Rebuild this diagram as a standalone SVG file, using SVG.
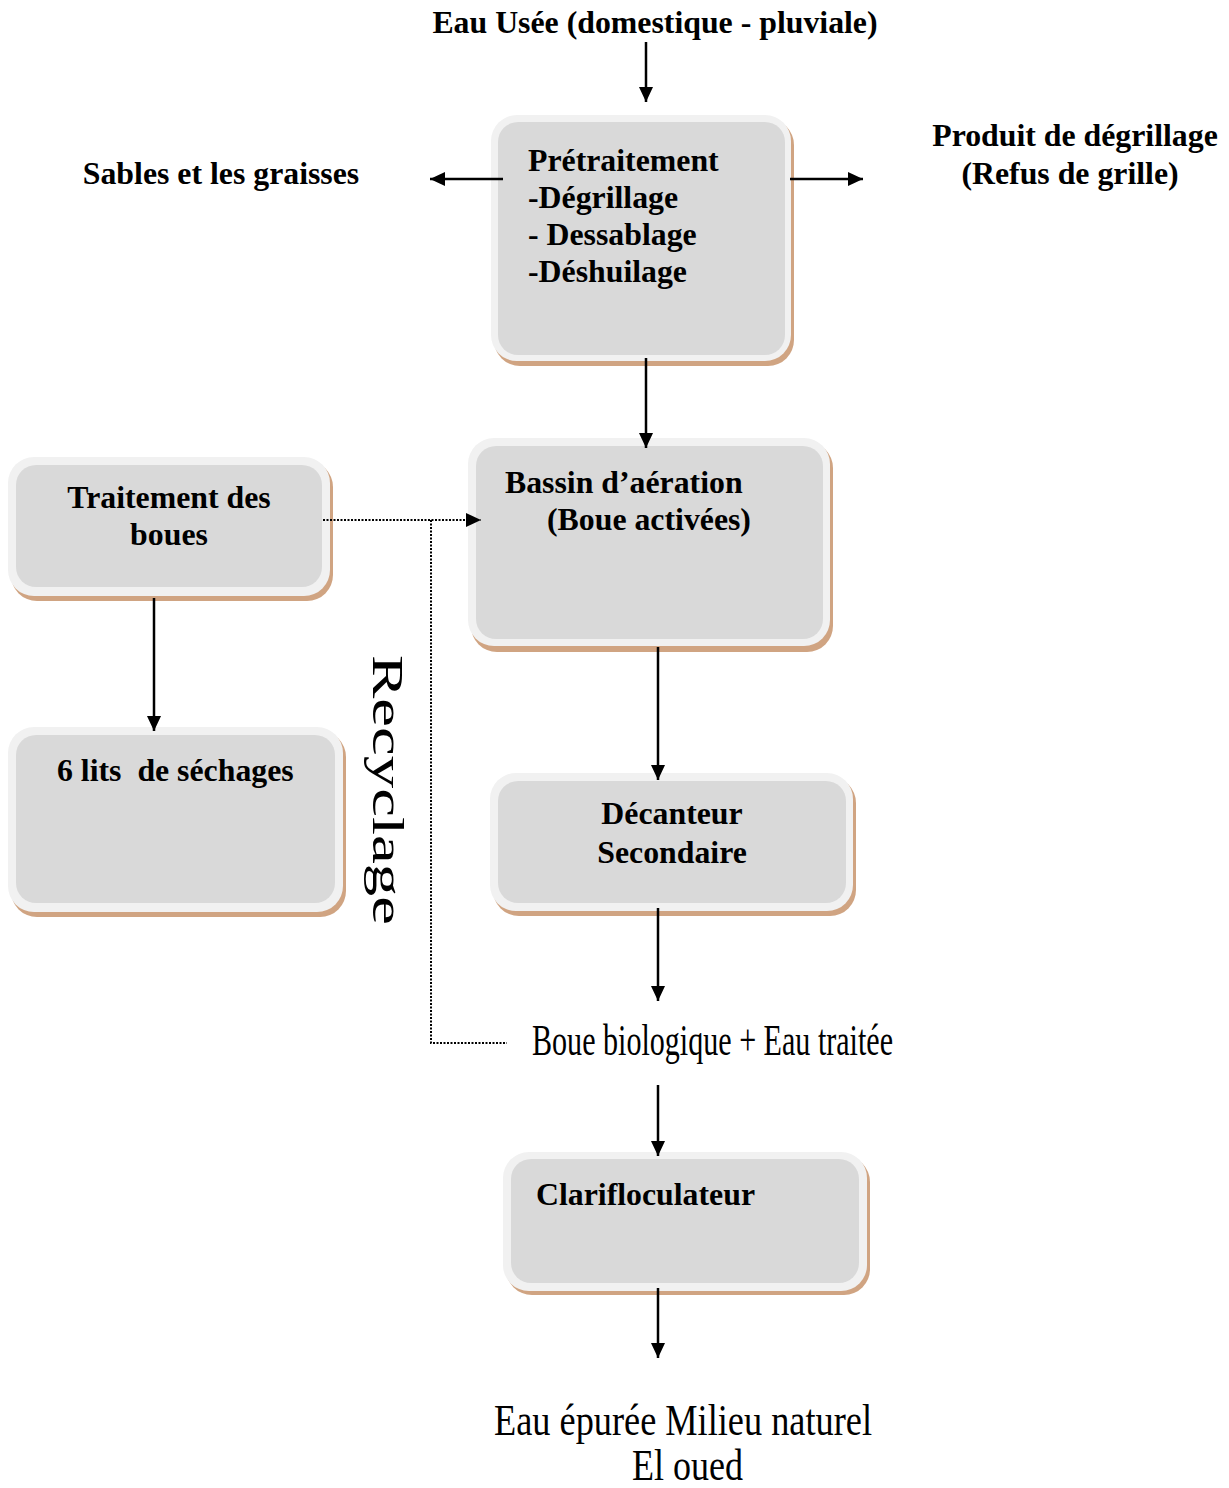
<svg xmlns="http://www.w3.org/2000/svg" width="1229" height="1488" viewBox="0 0 1229 1488">
<defs>
<style>
.sh{fill:#d0a482}
.out{fill:#f1f1f1}
.in{fill:#d9d9d9}
.b{font-family:"Liberation Serif","Times New Roman",serif;font-weight:bold;font-size:31.8px;fill:#000}
.r{font-family:"Liberation Serif","Times New Roman",serif;font-size:44px;fill:#000}
.ln{stroke:#000;stroke-width:2.5;fill:none}
.dot{stroke:#000;stroke-width:2;stroke-dasharray:2 1.5;fill:none}
</style>
<marker id="ah" markerUnits="userSpaceOnUse" markerWidth="16" markerHeight="16" refX="15" refY="8" orient="auto">
<path d="M0,1 L15,8 L0,15 Z" fill="#000"/>
</marker>
</defs>
<rect width="1229" height="1488" fill="#fff"/>

<g id="n-entree">
<text class="b" x="655" y="33" text-anchor="middle">Eau Usée (domestique - pluviale)</text>
</g>

<g id="n-sables">
<text class="b" x="221" y="184" text-anchor="middle">Sables et les graisses</text>
</g>

<g id="n-produit">
<text class="b" x="1075" y="146" text-anchor="middle">Produit de dégrillage</text>
<text class="b" x="1070" y="184" text-anchor="middle">(Refus de grille)</text>
</g>

<g id="n-pretraitement">
<rect class="sh" x="494" y="119" width="300" height="247" rx="26"/>
<rect class="out" x="491" y="115" width="300" height="246" rx="26"/>
<rect class="in" x="498" y="122" width="287" height="233" rx="20"/>
<text class="b" x="528" y="171">Prétraitement</text>
<text class="b" x="528" y="208">-Dégrillage</text>
<text class="b" x="528" y="245" xml:space="preserve">- Dessablage</text>
<text class="b" x="528" y="282">-Déshuilage</text>
</g>

<g id="n-bassin">
<rect class="sh" x="471" y="442" width="362" height="210" rx="26"/>
<rect class="out" x="468" y="438" width="362" height="208" rx="26"/>
<rect class="in" x="476" y="446" width="347" height="193" rx="20"/>
<text class="b" x="505" y="493">Bassin d’aération</text>
<text class="b" x="547" y="530">(Boue activées)</text>
</g>

<g id="n-decanteur">
<rect class="sh" x="493" y="777" width="363" height="139" rx="26"/>
<rect class="out" x="490" y="773" width="363" height="138" rx="26"/>
<rect class="in" x="498" y="781" width="348" height="122" rx="20"/>
<text class="b" x="672" y="824" text-anchor="middle">Décanteur</text>
<text class="b" x="672" y="863" text-anchor="middle">Secondaire</text>
</g>

<g id="n-traitement">
<rect class="sh" x="11" y="461" width="322" height="140" rx="26"/>
<rect class="out" x="8" y="457" width="322" height="139" rx="26"/>
<rect class="in" x="16" y="465" width="306" height="122" rx="20"/>
<text class="b" x="169" y="508" text-anchor="middle">Traitement des</text>
<text class="b" x="169" y="545" text-anchor="middle">boues</text>
</g>

<g id="n-lits">
<rect class="sh" x="11" y="731" width="335" height="186" rx="26"/>
<rect class="out" x="8" y="727" width="335" height="185" rx="26"/>
<rect class="in" x="16" y="735" width="319" height="168" rx="20"/>
<text class="b" x="57" y="781" xml:space="preserve">6 lits  de séchages</text>
</g>

<g id="n-recyclage">
<text class="r" font-size="53" transform="translate(373,655) rotate(90)" x="0" y="0" textLength="270" lengthAdjust="spacingAndGlyphs">Recyclage</text>
</g>

<g id="n-boue">
<text class="r" x="532" y="1055" textLength="361" lengthAdjust="spacingAndGlyphs">Boue biologique + Eau traitée</text>
</g>

<g id="n-clarifloculateur">
<rect class="sh" x="506" y="1156" width="364" height="139" rx="26"/>
<rect class="out" x="503" y="1152" width="364" height="139" rx="26"/>
<rect class="in" x="511" y="1159" width="348" height="124" rx="20"/>
<text class="b" x="536" y="1205">Clarifloculateur</text>
</g>

<g id="n-sortie">
<text class="r" font-size="42" x="494" y="1435" textLength="378" lengthAdjust="spacingAndGlyphs">Eau épurée Milieu naturel</text>
<text class="r" font-size="42" x="632" y="1480" textLength="111" lengthAdjust="spacingAndGlyphs">El oued</text>
</g>

<g id="connectors">
<line class="ln" x1="646" y1="42" x2="646" y2="102" marker-end="url(#ah)"/>
<line class="ln" x1="503" y1="179" x2="430" y2="179" marker-end="url(#ah)"/>
<line class="ln" x1="790" y1="179" x2="863" y2="179" marker-end="url(#ah)"/>
<line class="ln" x1="646" y1="358" x2="646" y2="448" marker-end="url(#ah)"/>
<line class="ln" x1="658" y1="647" x2="658" y2="780" marker-end="url(#ah)"/>
<line class="ln" x1="658" y1="908" x2="658" y2="1001" marker-end="url(#ah)"/>
<line class="ln" x1="658" y1="1085" x2="658" y2="1156" marker-end="url(#ah)"/>
<line class="ln" x1="658" y1="1288" x2="658" y2="1358" marker-end="url(#ah)"/>
<line class="ln" x1="154" y1="598" x2="154" y2="731" marker-end="url(#ah)"/>
<line class="dot" x1="323" y1="520" x2="481" y2="520" marker-end="url(#ah)"/>
<polyline class="dot" points="431,520 431,1043 507,1043"/>
</g>
</svg>
